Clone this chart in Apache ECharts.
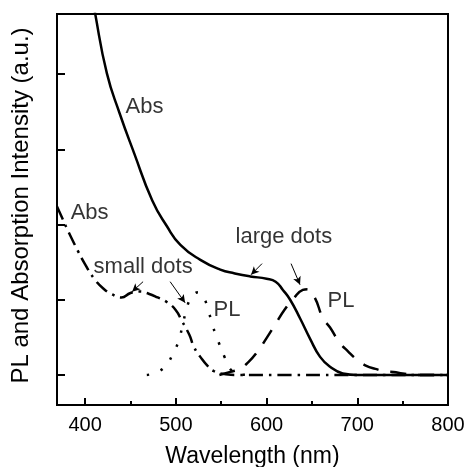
<!DOCTYPE html>
<html>
<head>
<meta charset="utf-8">
<script src="https://cdn.jsdelivr.net/npm/echarts@6/dist/echarts.min.js"></script>
<style>
html,body{margin:0;padding:0;background:#fff;}
#chart{width:468px;height:467px;}
</style>
</head>
<body>
<div id="chart"></div>
<script>
// ---- data ----
var xTicks = [400, 500, 600, 700, 800];
var xMinorTicks = [450, 550, 650, 750];
var yTicks = [0, 1, 2, 3, 4];

// Absorption, large dots (solid)
var absLargeWl = [405, 411, 424, 438, 454, 474, 490, 505, 527, 549, 565, 582, 600, 610, 618, 626, 637, 648, 659, 670, 684, 700, 800];
var absLargeV  = [5.25, 4.81, 4.01, 3.48, 2.95, 2.32, 1.98, 1.73, 1.53, 1.40, 1.35, 1.31, 1.28, 1.24, 1.13, 1.00, 0.75, 0.48, 0.24, 0.11, 0.02, 0, 0];

// Absorption, small dots (dash-dot)
var absSmallWl = [369, 375, 381, 392, 400, 410, 420, 430, 440, 450, 460, 470, 480, 490, 500, 507, 515, 520, 527, 535, 542, 555, 570, 800];
var absSmallV  = [2.24, 2.08, 1.92, 1.65, 1.47, 1.28, 1.15, 1.07, 1.03, 1.09, 1.11, 1.08, 1.03, 0.97, 0.86, 0.71, 0.53, 0.37, 0.24, 0.12, 0.05, 0.01, 0, 0];

// PL, small dots (dotted)
var plSmallWl = [468, 480, 490, 497, 503, 508, 513, 519, 525, 530, 536, 541, 547, 554, 560, 568, 580];
var plSmallV  = [0, 0.04, 0.14, 0.29, 0.45, 0.69, 0.93, 1.06, 1.10, 1.05, 0.85, 0.64, 0.44, 0.23, 0.08, 0.01, 0];

// PL, large dots (dashed)
var plLargeWl = [548, 560, 570, 580, 590, 600, 610, 620, 630, 640, 645, 653, 662, 670, 680, 690, 700, 710, 720, 730, 740, 750, 765, 800];
var plLargeV  = [0, 0.04, 0.08, 0.17, 0.31, 0.49, 0.68, 0.87, 1.02, 1.13, 1.14, 1.03, 0.76, 0.63, 0.44, 0.31, 0.20, 0.12, 0.08, 0.05, 0.04, 0.02, 0, 0];

// annotations
var annoText = ['Abs', 'Abs', 'small dots', 'PL', 'large dots', 'PL'];
var annoX = [444, 383.5, 408.8, 541, 565.3, 666.7];
var annoY = [3.56, 2.15, 1.43, 0.87, 1.83, 0.99];

var arrowFromX = [463.9, 493.7, 595.0, 627.0];
var arrowFromY = [1.24, 1.24, 1.48, 1.48];
var arrowToX = [451.8, 510.2, 582.9, 636.9];
var arrowToY = [1.107, 0.96, 1.333, 1.2];

function pairs(xs, ys) { return xs.map(function (x, i) { return [x, ys[i]]; }); }

var FONT = 'Arial, "Liberation Sans", Helvetica, sans-serif';

var chart = echarts.init(document.getElementById('chart'), null, {renderer: 'canvas'});

var arrowData = arrowFromX.map(function (x, i) {
  return [{coord: [x, arrowFromY[i]]}, {coord: [arrowToX[i], arrowToY[i]]}];
});

var option = {
  animation: false,
  backgroundColor: '#fff',
  grid: {left: 57, right: 20, top: 14, bottom: 62, outerBoundsMode: 'none', containLabel: false,
         show: true, borderColor: '#000', borderWidth: 2, backgroundColor: 'transparent'},
  xAxis: [{
    type: 'value', min: 369, max: 800,
    name: 'Wavelength (nm)', nameLocation: 'middle', nameGap: 40,
    nameTextStyle: {fontFamily: FONT, fontSize: 23, color: '#000'},
    axisLine: {show: true, onZero: false, lineStyle: {color: '#000', width: 2}},
    axisTick: {show: true, inside: true, length: 7, lineStyle: {color: '#000', width: 2}, customValues: xTicks},
    axisLabel: {show: true, margin: 10, fontFamily: FONT, fontSize: 20, color: '#000', customValues: xTicks},
    splitLine: {show: false}
  }, {
    type: 'value', min: 369, max: 800, position: 'bottom',
    axisLine: {show: false, onZero: false},
    axisTick: {show: true, inside: true, length: 4, lineStyle: {color: '#000', width: 2}, customValues: xMinorTicks},
    axisLabel: {show: false},
    splitLine: {show: false}
  }],
  yAxis: [{
    type: 'value', min: -0.4, max: 4.8,
    name: 'PL and Absorption Intensity (a.u.)', nameLocation: 'middle', nameGap: 24,
    nameTextStyle: {fontFamily: FONT, fontSize: 24, color: '#000', padding: [0, 0, 0, 8]},
    axisLine: {show: true, onZero: false, lineStyle: {color: '#000', width: 2}},
    axisTick: {show: true, inside: true, length: 8, lineStyle: {color: '#000', width: 2}, customValues: yTicks},
    axisLabel: {show: false},
    splitLine: {show: false}
  }],
  series: [{
    name: 'Abs large dots', type: 'line', data: pairs(absLargeWl, absLargeV),
    smooth: 0.5, showSymbol: false, symbol: 'none', clip: true,
    lineStyle: {color: '#000', width: 2.5, type: 'solid'}
  }, {
    name: 'Abs small dots', type: 'line', data: pairs(absSmallWl, absSmallV),
    smooth: 0.5, showSymbol: false, symbol: 'none', clip: true,
    lineStyle: {color: '#000', width: 2.5, type: [14, 6, 2.5, 6]}
  }, {
    name: 'PL small dots', type: 'line', data: pairs(plSmallWl, plSmallV),
    smooth: 0.5, showSymbol: false, symbol: 'none', clip: true,
    lineStyle: {color: '#000', width: 2.5, type: [2.5, 12]}
  }, {
    name: 'PL large dots', type: 'line', data: pairs(plLargeWl, plLargeV),
    smooth: 0.5, showSymbol: false, symbol: 'none', clip: true,
    lineStyle: {color: '#000', width: 2.5, type: [16, 12]}
  }, {
    name: 'annotations', type: 'scatter', silent: true,
    symbolSize: 1, itemStyle: {color: 'rgba(0,0,0,0)'},
    data: annoX.map(function (x, i) { return {value: [x, annoY[i]], name: annoText[i]}; }),
    label: {show: true, position: 'right', distance: 0, formatter: '{b}', fontFamily: FONT, fontSize: 22, color: '#000', textBorderWidth: 0},
    markLine: {
      silent: true, symbol: ['none', 'arrow'], symbolSize: [6, 8],
      label: {show: false},
      lineStyle: {color: '#000', width: 1, type: 'solid'},
      data: arrowData
    }
  }]
};
chart.setOption(option);
</script>
</body>
</html>
